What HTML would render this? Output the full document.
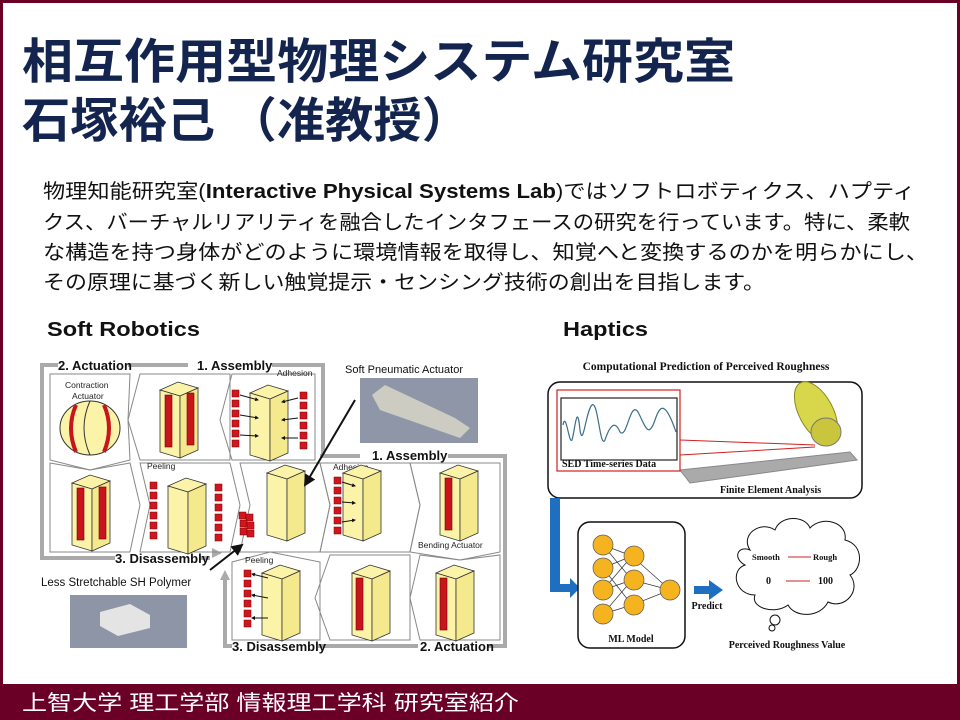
<!DOCTYPE html>
<html><head><meta charset="utf-8"><style>
html,body{margin:0;padding:0;background:#fff}
svg{display:block}
text{font-family:"Liberation Sans","Noto Sans CJK JP",sans-serif}
.s{font-family:"Liberation Serif",serif;font-weight:bold}
</style></head><body>
<svg width="960" height="720" viewBox="0 0 960 720" xmlns="http://www.w3.org/2000/svg">
<defs>
<g id="blk">
<polygon points="0,8 18,0 38,6 20,14" fill="#fbf3a8" stroke="#333" stroke-width="0.8"/>
<polygon points="0,8 20,14 20,76 0,70" fill="#fbf3a8" stroke="#333" stroke-width="0.8"/>
<polygon points="20,14 38,6 38,68 20,76" fill="#f5e98e" stroke="#333" stroke-width="0.8"/>
</g>
<g id="strip"><rect x="0" y="0" width="7" height="52" fill="#c8141c" stroke="#700" stroke-width="0.6"/></g>
<g id="cube"><rect x="0" y="0" width="7" height="7" fill="#d0161e" stroke="#700" stroke-width="0.5"/></g>
<marker id="ah" markerWidth="6" markerHeight="6" refX="5" refY="3" orient="auto"><path d="M0,0L6,3L0,6z" fill="#111"/></marker>
<marker id="bh" markerWidth="4" markerHeight="4" refX="3" refY="2" orient="auto"><path d="M0,0L4,2L0,4z" fill="#111"/></marker>
</defs>
<rect x="1.5" y="1.5" width="957" height="700" fill="none" stroke="#6b0026" stroke-width="3"/>
<rect x="0" y="684" width="960" height="36" fill="#6b0026"/>
<text x="22" y="710" font-size="21" fill="#fff" textLength="497" lengthAdjust="spacingAndGlyphs">上智大学  理工学部  情報理工学科  研究室紹介</text>
<text x="22" y="78" font-size="48" font-weight="bold" fill="#13254f" textLength="713" lengthAdjust="spacingAndGlyphs">相互作用型物理システム研究室</text>
<text x="22" y="137" font-size="48" font-weight="bold" fill="#13254f" textLength="448" lengthAdjust="spacingAndGlyphs">石塚裕己 （准教授）</text>
<g font-size="20" fill="#111">
<text x="43" y="198" textLength="872" lengthAdjust="spacingAndGlyphs">物理知能研究室(<tspan font-weight="bold">Interactive Physical Systems Lab</tspan>)ではソフトロボティクス、ハプティ</text>
<text x="43" y="229" textLength="867" lengthAdjust="spacingAndGlyphs">クス、バーチャルリアリティを融合したインタフェースの研究を行っています。特に、柔軟</text>
<text x="43" y="259" textLength="885" lengthAdjust="spacingAndGlyphs">な構造を持つ身体がどのように環境情報を取得し、知覚へと変換するのかを明らかにし、</text>
<text x="43" y="289" textLength="722" lengthAdjust="spacingAndGlyphs">その原理に基づく新しい触覚提示・センシング技術の創出を目指します。</text>
</g>
<text x="47" y="336" font-size="20" font-weight="bold" fill="#111" textLength="153" lengthAdjust="spacingAndGlyphs">Soft Robotics</text>
<text x="563" y="336" font-size="20" font-weight="bold" fill="#111" textLength="85" lengthAdjust="spacingAndGlyphs">Haptics</text>

<g fill="none" stroke="#aaa" stroke-width="4">
<polyline points="58,365 42,365 42,558 115,558"/>
<polyline points="128,365 188,365"/>
<polyline points="272,365 323,365 323,455"/>
<polyline points="200,558 210,558"/>
<polyline points="360,456 320,456"/>
<polyline points="448,456 505,456 505,646 488,646"/>
<polyline points="418,646 318,646"/>
<polyline points="232,646 225,646 225,578"/>
</g>
<polygon points="225,570 220,580 230,580" fill="#aaa"/>
<polygon points="222,553 212,548 212,558" fill="#aaa"/>
<g font-size="13" font-weight="bold" fill="#111">
<text x="58" y="370">2. Actuation</text>
<text x="197" y="370">1. Assembly</text>
<text x="115" y="563">3. Disassembly</text>
<text x="372" y="460">1. Assembly</text>
<text x="232" y="651">3. Disassembly</text>
<text x="420" y="651">2. Actuation</text>
</g>
<g fill="none" stroke="#888" stroke-width="1">
<polygon points="50,374 130,374 128,420 130,460 90,470 50,460"/>
<polygon points="140,374 230,374 230,460 140,460 128,420"/>
<polygon points="232,374 315,374 315,460 232,460 220,420"/>
<polygon points="50,463 90,470 130,463 140,505 130,552 50,552"/>
<polygon points="140,463 230,463 240,505 230,552 140,552 150,505"/>
<polygon points="240,463 320,463 330,505 320,552 240,552 250,505"/>
<polygon points="320,463 410,463 420,505 410,552 320,552 330,505"/>
<polygon points="410,463 500,463 500,552 460,560 410,552 420,505"/>
<polygon points="232,562 270,552 320,562 320,640 232,640"/>
<polygon points="330,555 410,555 410,640 330,640 315,598"/>
<polygon points="420,555 460,560 500,555 500,640 420,640 410,598"/>
</g>
<g font-size="8.5" fill="#222">
<text x="65" y="388">Contraction</text><text x="72" y="399">Actuator</text>
<text x="277" y="376">Adhesion</text>
<text x="147" y="469">Peeling</text>
<text x="333" y="470">Adhesion</text>
<text x="418" y="548">Bending Actuator</text>
<text x="245" y="563">Peeling</text>
</g>
<ellipse cx="90" cy="428" rx="30" ry="27" fill="#fbf3a8" stroke="#333"/>
<path d="M90,401 Q78,428 90,455" fill="none" stroke="#333"/>
<path d="M76,405 Q66,428 76,452" fill="none" stroke="#c8141c" stroke-width="4"/>
<path d="M104,405 Q114,428 104,452" fill="none" stroke="#c8141c" stroke-width="4"/>
<use href="#blk" x="160" y="382"/>
<use href="#strip" x="165" y="395"/><use href="#strip" x="187" y="393"/>
<use href="#blk" x="250" y="385"/>
<use href="#blk" x="72" y="475"/>
<use href="#strip" x="77" y="488"/><use href="#strip" x="99" y="487"/>
<use href="#blk" x="168" y="478"/>
<use href="#blk" x="267" y="465"/>
<use href="#blk" x="343" y="465"/>
<use href="#blk" x="440" y="465"/>
<use href="#strip" x="445" y="478"/>
<use href="#blk" x="262" y="565"/>
<use href="#blk" x="352" y="565"/>
<use href="#strip" x="356" y="578"/>
<use href="#blk" x="436" y="565"/>
<use href="#strip" x="440" y="578"/>
<g>
<use href="#cube" x="232" y="390"/><use href="#cube" x="232" y="400"/><use href="#cube" x="232" y="410"/><use href="#cube" x="232" y="420"/><use href="#cube" x="232" y="430"/><use href="#cube" x="232" y="440"/>
<use href="#cube" x="300" y="392"/><use href="#cube" x="300" y="402"/><use href="#cube" x="300" y="412"/><use href="#cube" x="300" y="422"/><use href="#cube" x="300" y="432"/><use href="#cube" x="300" y="442"/>
<use href="#cube" x="150" y="482"/><use href="#cube" x="150" y="492"/><use href="#cube" x="150" y="502"/><use href="#cube" x="150" y="512"/><use href="#cube" x="150" y="522"/><use href="#cube" x="150" y="532"/>
<use href="#cube" x="215" y="484"/><use href="#cube" x="215" y="494"/><use href="#cube" x="215" y="504"/><use href="#cube" x="215" y="514"/><use href="#cube" x="215" y="524"/><use href="#cube" x="215" y="534"/>
<use href="#cube" x="334" y="477"/><use href="#cube" x="334" y="487"/><use href="#cube" x="334" y="497"/><use href="#cube" x="334" y="507"/><use href="#cube" x="334" y="517"/><use href="#cube" x="334" y="527"/>
<use href="#cube" x="244" y="570"/><use href="#cube" x="244" y="580"/><use href="#cube" x="244" y="590"/><use href="#cube" x="244" y="600"/><use href="#cube" x="244" y="610"/><use href="#cube" x="244" y="620"/>
<use href="#cube" x="239" y="512"/><use href="#cube" x="246" y="514"/><use href="#cube" x="240" y="520"/><use href="#cube" x="247" y="522"/><use href="#cube" x="240" y="528"/><use href="#cube" x="247" y="530"/>
</g>
<g stroke="#111" stroke-width="1" marker-end="url(#bh)">
<line x1="240" y1="395" x2="258" y2="400"/><line x1="240" y1="415" x2="258" y2="418"/><line x1="240" y1="435" x2="258" y2="436"/>
<line x1="298" y1="398" x2="282" y2="402"/><line x1="298" y1="418" x2="282" y2="420"/><line x1="298" y1="438" x2="282" y2="438"/>
<line x1="342" y1="482" x2="355" y2="486"/><line x1="342" y1="502" x2="355" y2="503"/><line x1="342" y1="522" x2="355" y2="520"/>
<line x1="268" y1="578" x2="252" y2="574"/><line x1="268" y1="598" x2="252" y2="595"/><line x1="268" y1="618" x2="252" y2="618"/>
</g>
<text x="345" y="373" font-size="11" fill="#111">Soft Pneumatic Actuator</text>
<rect x="360" y="378" width="118" height="65" fill="#8e96a8"/>
<polygon points="372,395 385,385 455,418 470,428 460,438 380,410" fill="#d4d2c4" opacity="0.9"/>
<text x="41" y="586" font-size="11.5" fill="#111">Less Stretchable SH Polymer</text>
<rect x="70" y="595" width="117" height="53" fill="#8d95a6"/>
<polygon points="100,612 130,604 150,615 150,628 118,636 100,626" fill="#e4e4e4"/>
<line x1="355" y1="400" x2="305" y2="485" stroke="#111" stroke-width="2" marker-end="url(#ah)"/>
<line x1="210" y1="570" x2="242" y2="545" stroke="#111" stroke-width="2" marker-end="url(#ah)"/>

<text x="706" y="370" class="s" font-size="11.5" text-anchor="middle" fill="#111">Computational Prediction of Perceived Roughness</text>
<rect x="548" y="382" width="314" height="116" rx="12" fill="#fff" stroke="#111" stroke-width="1.5"/>
<polygon points="680,470 850,452 857,460 690,483" fill="#aaa" stroke="#888"/>
<ellipse cx="816" cy="412" rx="17" ry="33" fill="#d8d64a" stroke="#8a8a20" transform="rotate(-28 816 412)"/>
<ellipse cx="826" cy="432" rx="15" ry="14" fill="#c9c63e" stroke="#777"/>
<polyline points="680,440 815,445" stroke="#d02020" fill="none"/>
<polyline points="680,455 815,447" stroke="#d02020" fill="none"/>
<rect x="557" y="390" width="123" height="81" fill="#fff" stroke="#d02020" stroke-width="1.2"/>
<rect x="561" y="398" width="116" height="62" fill="#fff" stroke="#222" stroke-width="1.2"/>
<path d="M563,425 C566,410 569,445 572,440 C575,430 577,400 580,430 C583,450 586,410 592,405 C598,400 600,450 605,440 C610,425 615,420 620,432 C627,440 630,400 638,412 C645,425 648,440 655,420 C660,405 665,400 676,432" fill="none" stroke="#3a6f8a" stroke-width="1.2"/>
<text x="562" y="467" class="s" font-size="10" fill="#111">SED Time-series Data</text>
<text x="720" y="493" class="s" font-size="10" fill="#111">Finite Element Analysis</text>
<path d="M550,498 L560,498 L560,584 L570,584 L570,578 L580,588 L570,598 L570,592 L550,592 Z" fill="#1e6fc0"/>
<rect x="578" y="522" width="107" height="126" rx="12" fill="#fff" stroke="#111" stroke-width="1.5"/>
<g stroke="#333" stroke-width="0.7">
<line x1="603" y1="545" x2="632" y2="556"/><line x1="603" y1="545" x2="632" y2="580"/><line x1="603" y1="568" x2="632" y2="556"/><line x1="603" y1="568" x2="632" y2="605"/><line x1="603" y1="590" x2="632" y2="580"/><line x1="603" y1="590" x2="632" y2="556"/><line x1="603" y1="614" x2="632" y2="605"/><line x1="603" y1="614" x2="632" y2="580"/>
<line x1="632" y1="556" x2="670" y2="590"/><line x1="632" y1="580" x2="670" y2="590"/><line x1="632" y1="605" x2="670" y2="590"/>
</g>
<g fill="#f5b320" stroke="#555" stroke-width="0.7">
<circle cx="603" cy="545" r="10"/><circle cx="603" cy="568" r="10"/><circle cx="603" cy="590" r="10"/><circle cx="603" cy="614" r="10"/>
<circle cx="634" cy="556" r="10"/><circle cx="634" cy="580" r="10"/><circle cx="634" cy="605" r="10"/>
<circle cx="670" cy="590" r="10"/>
</g>
<text x="631" y="642" class="s" font-size="10" text-anchor="middle" fill="#111">ML Model</text>
<path d="M694,586 L709,586 L709,580 L723,590 L709,600 L709,594 L694,594 Z" fill="#1e6fc0"/>
<text x="707" y="609" class="s" font-size="10" text-anchor="middle" fill="#111">Predict</text>
<path d="M750,550 C740,535 760,520 775,530 C780,515 805,515 810,528 C822,515 848,522 845,540 C865,545 862,570 850,575 C862,590 845,610 828,602 C820,618 795,618 788,605 C775,615 750,608 755,595 C735,595 730,570 745,565 C732,558 738,545 750,550 Z" fill="#fff" stroke="#111" stroke-width="1"/>
<circle cx="775" cy="620" r="5" fill="#fff" stroke="#111"/><circle cx="772" cy="628" r="3" fill="#fff" stroke="#111"/>
<text x="752" y="560" class="s" font-size="8.5" fill="#111">Smooth</text>
<text x="813" y="560" class="s" font-size="8.5" fill="#111">Rough</text>
<line x1="788" y1="557" x2="811" y2="557" stroke="#d02020"/>
<text x="766" y="584" class="s" font-size="10" fill="#111">0</text>
<text x="818" y="584" class="s" font-size="10" fill="#111">100</text>
<line x1="786" y1="581" x2="810" y2="581" stroke="#d02020"/>
<text x="787" y="648" class="s" font-size="10" text-anchor="middle" fill="#111">Perceived Roughness Value</text>
</svg>
</body></html>
